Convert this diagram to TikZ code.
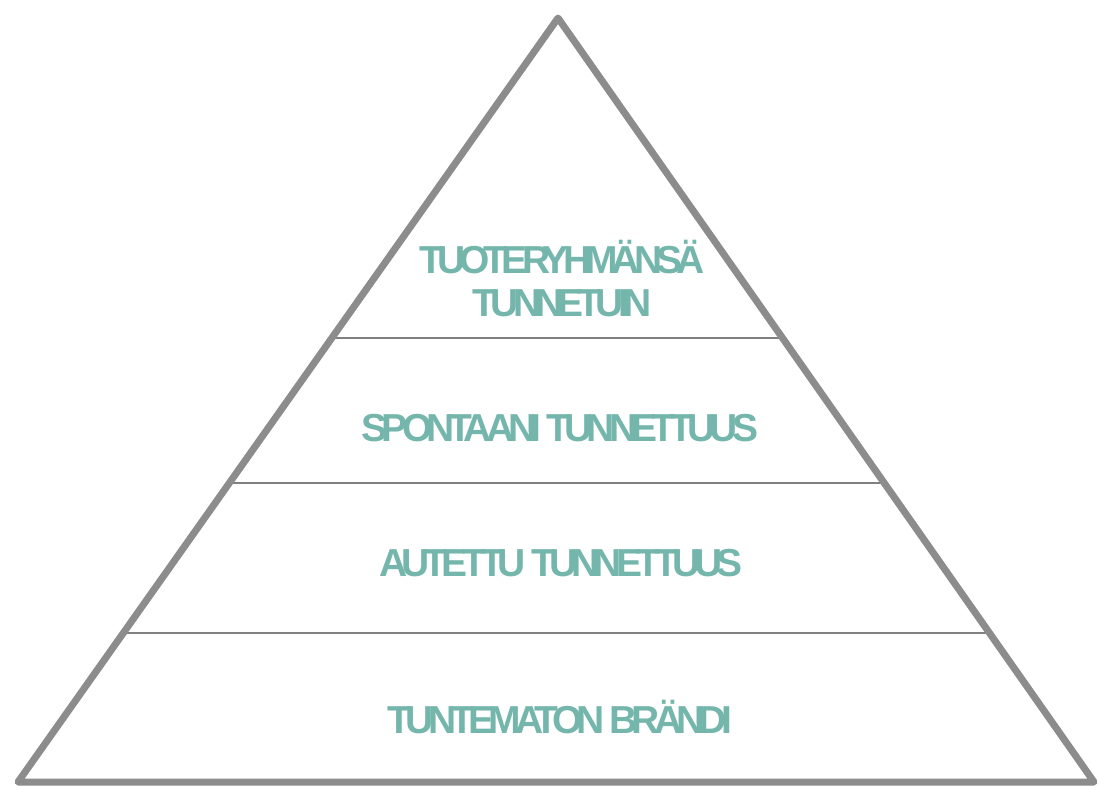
\documentclass[tikz,border=0pt]{standalone}
\usepackage{fontspec}
\setmainfont{Liberation Sans}
\usetikzlibrary{calc}
\definecolor{rimgray}{HTML}{8C8C8C}
\definecolor{layergray}{HTML}{808080}
\definecolor{softteal}{HTML}{74B6AB}
\newfontfamily\tightbold[LetterSpace=-15]{Liberation Sans Bold}

\begin{document}
\begin{tikzpicture}[x=1pt,y=-1pt,
      rim/.style={draw=rimgray,line width=7pt,line join=round},
      layer/.style={draw=layergray,line width=2.6pt},
      lbl/.style={text=softteal,font=\tightbold\fontsize{39}{43}\selectfont,align=center,inner sep=0pt}
    ]
    \useasboundingbox (0,0) rectangle (1099,787);
    \coordinate (bl) at (18,782);
    \coordinate (br) at (1094,782);
    \coordinate (top) at (558,18);
    % layer borders
    \draw[layer] ($(bl)!0.5812!(top)$) -- ($(br)!0.5812!(top)$);
    \draw[layer] ($(bl)!0.3914!(top)$) -- ($(br)!0.3914!(top)$);
    \draw[layer] ($(bl)!0.1950!(top)$) -- ($(br)!0.1950!(top)$);
    \draw[rim] (bl) -- (top) -- (br) -- cycle;
    % texts
    \node[lbl] (brand) at (562,279) {TUOTERYHMÄNSÄ\\TUNNETUIN};
    \node[lbl] (spont) at (560,428) {SPONTAANI TUNNETTUUS};
    \node[lbl] (aided) at (561,563) {AUTETTU TUNNETTUUS};
    \node[lbl] (unkn) at (560,717) {TUNTEMATON BRÄNDI};
  \end{tikzpicture}
\end{document}
